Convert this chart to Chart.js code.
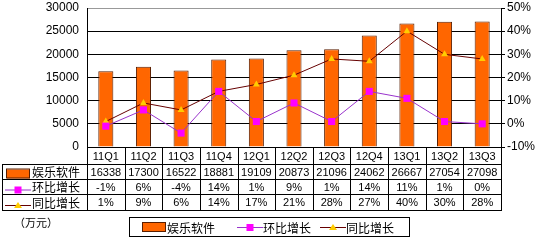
<!DOCTYPE html>
<html>
<head>
<meta charset="utf-8">
<script src="https://cdn.jsdelivr.net/npm/chart.js@4.4.1/dist/chart.umd.min.js"></script>
<style>
  html, body { margin: 0; padding: 0; background: #fff; }
  #wrap { width: 535px; height: 240px; position: relative; }
</style>
</head>
<body>
<div id="wrap"><canvas id="chart" width="535" height="240"></canvas></div>
<script>
const quarters = ['11Q1', '11Q2', '11Q3', '11Q4', '12Q1', '12Q2', '12Q3', '12Q4', '13Q1', '13Q2', '13Q3'];
const software = [16338, 17300, 16522, 18881, 19109, 20873, 21096, 24062, 26667, 27054, 27098];
const qoq = [-1, 6, -4, 14, 1, 9, 1, 14, 11, 1, 0];
const yoy = [1, 9, 6, 14, 17, 21, 28, 27, 40, 30, 28];

const seriesNames = ['娱乐软件', '环比增长', '同比增长'];
const unitLabel = '（万元）';

const BAR = '#FF6600', BAR_EDGE = '#5a1e00';
const QOQ_LINE = '#9933CC', QOQ_MARK = '#FF00FF';
const YOY_LINE = '#660000', YOY_MARK = '#FFCC00';
const NUM_FONT = '11px "Liberation Sans", Arial, sans-serif';
const CJK_FONT = '12px "Noto Sans CJK SC", sans-serif';

function drawMarker(ctx, kind, x, y) {
    if (kind === 'bar') {
        ctx.fillStyle = BAR;
        ctx.fillRect(x - 11, y - 4, 23, 9);
        ctx.strokeStyle = BAR_EDGE;
        ctx.lineWidth = 1;
        ctx.strokeRect(x - 11.5, y - 4.5, 23, 9);
        return;
    }
    ctx.lineWidth = 1;
    ctx.strokeStyle = kind === 'qoq' ? QOQ_LINE : YOY_LINE;
    ctx.beginPath();
    ctx.moveTo(x - 13, y + 0.5);
    ctx.lineTo(x + 13, y + 0.5);
    ctx.stroke();
    if (kind === 'qoq') {
        ctx.fillStyle = QOQ_MARK;
        ctx.fillRect(x - 3.5, y - 3, 7, 7);
    } else {
        ctx.fillStyle = YOY_MARK;
        ctx.beginPath();
        ctx.moveTo(x, y - 3);
        ctx.lineTo(x + 4, y + 3);
        ctx.lineTo(x - 4, y + 3);
        ctx.closePath();
        ctx.fill();
    }
}

// data table under the plot + legend box
const tablePlugin = {
    id: 'dataTable',
    afterDraw(chart) {
        const ctx = chart.ctx;
        const a = chart.chartArea;
        const xs = chart.scales.x;
        const n = quarters.length;
        const w = (a.right - a.left) / n;
        const top = Math.round(a.bottom);
        const rows = [top, 164, 179, 194, 210];
        const tableLeft = 2;
        const L = Math.round(a.left), R = Math.round(a.right);

        ctx.save();
        ctx.strokeStyle = '#000';
        ctx.lineWidth = 1;
        ctx.beginPath();
        // horizontal lines
        ctx.moveTo(L, top + 0.5); ctx.lineTo(R + 1, top + 0.5);
        for (let i = 1; i < rows.length; i++) {
            ctx.moveTo(tableLeft, rows[i] + 0.5);
            ctx.lineTo(R + 1, rows[i] + 0.5);
        }
        // vertical lines
        ctx.moveTo(tableLeft + 0.5, rows[1]); ctx.lineTo(tableLeft + 0.5, rows[4] + 1);
        for (let i = 0; i <= n; i++) {
            const x = Math.round(a.left + i * w) + 0.5;
            ctx.moveTo(x, top); ctx.lineTo(x, rows[4] + 1);
        }
        ctx.stroke();

        // category row
        ctx.fillStyle = '#000';
        ctx.textAlign = 'center';
        ctx.textBaseline = 'middle';
        ctx.font = NUM_FONT;
        const rowVals = [software, qoq.map(v => v + '%'), yoy.map(v => v + '%')];
        quarters.forEach((q, i) => {
            const cx = xs.getPixelForValue(i);
            ctx.fillText(q, cx, (rows[0] + rows[1]) / 2 + 1);
            rowVals.forEach((vals, r) => {
                ctx.fillText(String(vals[i]), cx, (rows[r + 1] + rows[r + 2]) / 2 + 1);
            });
        });

        // row headers
        const kinds = ['bar', 'qoq', 'yoy'];
        kinds.forEach((k, r) => {
            const cy = (rows[r + 1] + rows[r + 2]) / 2;
            drawMarker(ctx, k, 18, k === 'bar' ? cy + 2 : cy + 3);
            ctx.fillStyle = '#000';
            ctx.font = CJK_FONT;
            ctx.textAlign = 'left';
            ctx.fillText(seriesNames[r], 32, cy + 1);
        });

        // unit
        ctx.font = '11px "Noto Sans CJK SC", sans-serif';
        ctx.fillText(unitLabel, 14, 223);

        // legend box
        ctx.strokeStyle = '#000';
        ctx.strokeRect(129.5, 217.5, 280, 19);
        const legendX = [154, 250, 333];
        kinds.forEach((k, r) => {
            drawMarker(ctx, k, legendX[r], 227);
            ctx.fillStyle = '#000';
            ctx.font = CJK_FONT;
            ctx.textAlign = 'left';
            ctx.fillText(seriesNames[r], legendX[r] + 13, 228);
        });
        ctx.restore();
    }
};

new Chart(document.getElementById('chart'), {
    data: {
        labels: quarters,
        datasets: [
            {
                type: 'line', label: seriesNames[1], data: qoq, yAxisID: 'y1', order: 1,
                borderColor: QOQ_LINE, borderWidth: 1, tension: 0,
                pointStyle: 'rect', pointRadius: 5, pointBackgroundColor: QOQ_MARK,
                pointBorderColor: QOQ_MARK, pointBorderWidth: 0
            },
            {
                type: 'line', label: seriesNames[2], data: yoy, yAxisID: 'y1', order: 2,
                borderColor: YOY_LINE, borderWidth: 1, tension: 0,
                pointStyle: 'triangle', pointRadius: 4, pointBackgroundColor: YOY_MARK,
                pointBorderColor: '#FFAA00', pointBorderWidth: 0
            },
            {
                type: 'bar', label: seriesNames[0], data: software, yAxisID: 'y', order: 3,
                backgroundColor: BAR, borderColor: BAR_EDGE, borderWidth: 1,
                categoryPercentage: 1, barPercentage: 0.4
            }
        ]
    },
    options: {
        responsive: false,
        animation: false,
        layout: { padding: { top: 8, bottom: 93, left: 0, right: 0 } },
        plugins: { legend: { display: false }, tooltip: { enabled: false } },
        scales: {
            x: { display: false, offset: true },
            y: {
                position: 'left', min: 0, max: 30000,
                afterFit(s) { s.width = 87; s.paddingTop = 0; s.paddingBottom = 0; },
                ticks: {
                    stepSize: 5000, color: '#000', padding: 8,
                    font: { family: '"Liberation Sans", Arial, sans-serif', size: 12 },
                    callback: v => String(v)
                },
                grid: {
                    color: ctx => ctx.tick && ctx.tick.value === 30000 ? '#999' : '#000',
                    lineWidth: 1, drawTicks: false
                },
                border: { color: '#000', width: 1 }
            },
            y1: {
                position: 'right', min: -10, max: 50,
                afterFit(s) { s.width = 34; s.paddingTop = 0; s.paddingBottom = 0; },
                ticks: {
                    stepSize: 10, color: '#000', padding: 2,
                    font: { family: '"Liberation Sans", Arial, sans-serif', size: 12 },
                    callback: v => v + '%'
                },
                grid: { drawOnChartArea: false, tickLength: 4, color: '#000' },
                border: { color: '#000', width: 1 }
            }
        }
    },
    plugins: [tablePlugin]
});
</script>
</body>
</html>
